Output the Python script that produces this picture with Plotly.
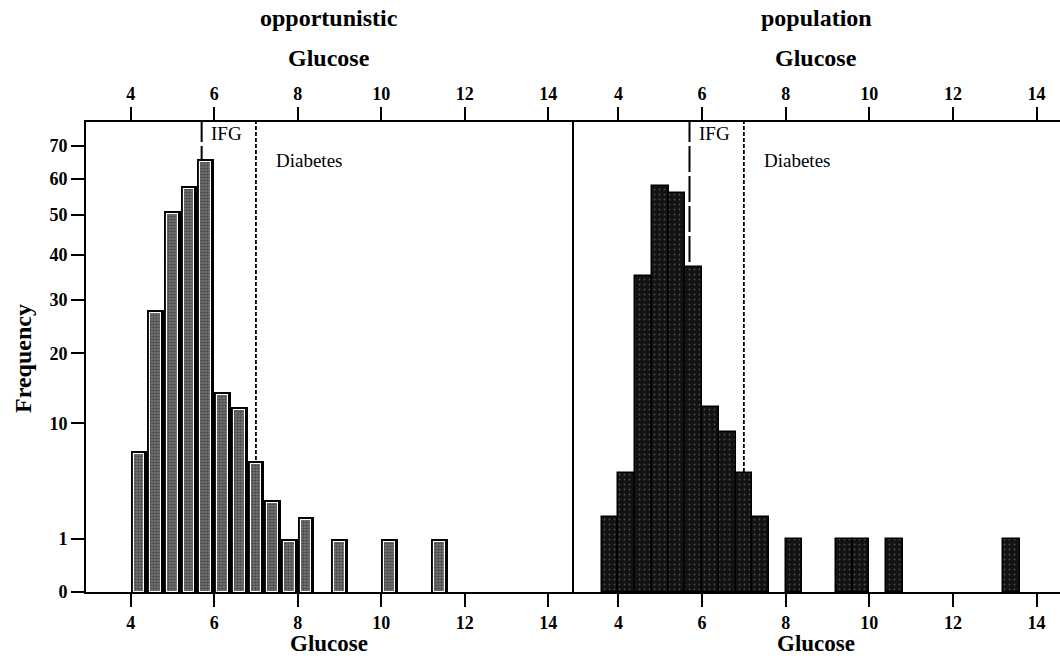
import numpy as np
import plotly.graph_objects as go

# ---------------- data ----------------
opp_bin_start = [4.0, 4.4, 4.8, 5.2, 5.6, 6.0, 6.4, 6.8, 7.2, 7.6, 8.0, 8.8, 10.0, 11.2]
opp_counts = [7, 28, 51, 58, 66, 14, 12, 6, 3, 1, 2, 1, 1, 1]
pop_bin_start = [3.6, 4.0, 4.4, 4.8, 5.2, 5.6, 6.0, 6.4, 6.8, 7.2, 8.0, 9.2, 9.6, 10.4, 13.2]
pop_counts = [2, 5, 35, 58, 56, 37, 12, 9, 5, 2, 1, 1, 1, 1, 1]
bin_width = 0.4
y_tick_values = [0, 1, 10, 20, 30, 40, 50, 60, 70]
x_tick_values = [4, 6, 8, 10, 12, 14]
ifg_threshold = 5.7
diabetes_threshold = 7.0
panel_titles = ["opportunistic", "population"]
axis_title = "Glucose"
y_title = "Frequency"

# ---------------- style ----------------
SERIF = "Liberation Serif"
TICKFONT = dict(family=SERIF, size=18, color="black", weight="bold")
W, H = 1060, 671
ML, MR, MT, MB = 86, 0, 122, 79
plot_w = W - ML - MR
plot_h = H - MT - MB
split = 486 / plot_w
y_max = 8.81
x_range_left = [2.93, 14.57]
x_range_right = [2.89, 14.56]

px_per_x = 41.7
px_per_y = plot_h / y_max
inset_x = 3.0 / px_per_x
inset_y = 3.0 / px_per_y

opp_sqrt = np.sqrt(opp_counts)
pop_sqrt = np.sqrt(pop_counts)

fig = go.Figure()

# left panel: black outer bars + stippled grey inner bars with white rim
fig.add_trace(go.Bar(
    x=opp_bin_start, y=opp_sqrt, width=bin_width, offset=0,
    marker=dict(color="black", line=dict(width=0)),
    xaxis="x", yaxis="y", showlegend=False, hoverinfo="skip"))
fig.add_trace(go.Bar(
    x=opp_bin_start, y=opp_sqrt - inset_y, base=0,
    width=bin_width - 2 * inset_x, offset=inset_x,
    marker=dict(color="#505050", line=dict(color="white", width=1.1),
                pattern=dict(shape=".", bgcolor="#7c7c7c", fgcolor="#1a1a1a",
                             size=3, solidity=0.6)),
    xaxis="x", yaxis="y", showlegend=False, hoverinfo="skip"))

# right panel: dark bars
fig.add_trace(go.Bar(
    x=pop_bin_start, y=pop_sqrt, width=bin_width, offset=0,
    marker=dict(color="#141414", line=dict(color="black", width=1.5),
                pattern=dict(shape=".", bgcolor="#121212", fgcolor="#8a8a8a",
                             size=5, solidity=0.1)),
    xaxis="x2", yaxis="y2", showlegend=False, hoverinfo="skip"))

# empty traces to attach the top axes
fig.add_trace(go.Scatter(x=[None], y=[None], xaxis="x3", yaxis="y",
                         showlegend=False, hoverinfo="skip"))
fig.add_trace(go.Scatter(x=[None], y=[None], xaxis="x4", yaxis="y2",
                         showlegend=False, hoverinfo="skip"))

xcommon = dict(tickvals=x_tick_values, ticks="outside", ticklen=13, tickwidth=2,
               tickcolor="black", showline=True, linecolor="black", linewidth=2,
               showgrid=False, zeroline=False, tickfont=TICKFONT, fixedrange=True)

fig.update_layout(
    width=W, height=H,
    margin=dict(l=ML, r=MR, t=MT, b=MB, pad=0),
    paper_bgcolor="white", plot_bgcolor="white",
    barmode="overlay", bargap=0,
    xaxis=dict(domain=[0, split], range=x_range_left, anchor="y", **xcommon),
    xaxis2=dict(domain=[split, 1], range=x_range_right, anchor="y2", **xcommon),
    xaxis3=dict(overlaying="x", side="top", range=x_range_left, anchor="y", **xcommon),
    xaxis4=dict(overlaying="x2", side="top", range=x_range_right, anchor="y2", **xcommon),
    yaxis=dict(domain=[0, 1], range=[0, y_max], anchor="x",
               tickvals=np.sqrt(y_tick_values).tolist(),
               ticktext=[str(v) for v in y_tick_values],
               ticks="outside", ticklen=13, tickwidth=2, tickcolor="black",
               showline=True, mirror=True, linecolor="black", linewidth=2,
               showgrid=False, zeroline=False, tickfont=TICKFONT, fixedrange=True),
    yaxis2=dict(domain=[0, 1], range=[0, y_max], anchor="x2", matches="y",
                showticklabels=False, ticks="", showline=False,
                showgrid=False, zeroline=False, fixedrange=True),
)

shapes = []
annotations = []
for xa in ["x", "x2"]:
    yd = f"{'y' if xa == 'x' else 'y2'} domain"
    shapes.append(dict(type="line", xref=xa, yref=yd,
                       x0=ifg_threshold, x1=ifg_threshold, y0=0, y1=1, layer="below",
                       line=dict(color="black", width=2, dash="26px,4px")))
    shapes.append(dict(type="line", xref=xa, yref=yd,
                       x0=diabetes_threshold, x1=diabetes_threshold, y0=0, y1=1, layer="below",
                       line=dict(color="black", width=1.8, dash="4px,2px")))
    annotations.append(dict(text="IFG", xref=xa, x=ifg_threshold, xanchor="left", xshift=7,
                            yref=yd, y=1, yanchor="middle", yshift=-11, showarrow=False,
                            font=dict(family=SERIF, size=19, color="black")))
    annotations.append(dict(text="Diabetes", xref=xa, x=diabetes_threshold, xanchor="left",
                            xshift=18, yref=yd, y=1, yanchor="middle", yshift=-38,
                            showarrow=False, font=dict(family=SERIF, size=19, color="black")))

for xa, title in zip(["x", "x2"], panel_titles):
    for txt, ypos, shift, size in [(title, 1, 104, 24), (axis_title, 1, 64, 24),
                                   (axis_title, 0, -51, 23)]:
        annotations.append(dict(text=txt, xref=f"{xa} domain", x=0.5, xanchor="center",
                                yref="paper", y=ypos, yanchor="middle", yshift=shift,
                                showarrow=False,
                                font=dict(family=SERIF, size=size, color="black", weight="bold")))

annotations.append(dict(text=y_title, xref="paper", x=0, xanchor="center", xshift=-63,
                        yref="paper", y=0.5, yanchor="middle", yshift=-2, textangle=-90,
                        showarrow=False,
                        font=dict(family=SERIF, size=24, color="black", weight="bold")))

fig.update_layout(shapes=shapes, annotations=annotations)
fig.write_html("out.html", config={"displayModeBar": False})
